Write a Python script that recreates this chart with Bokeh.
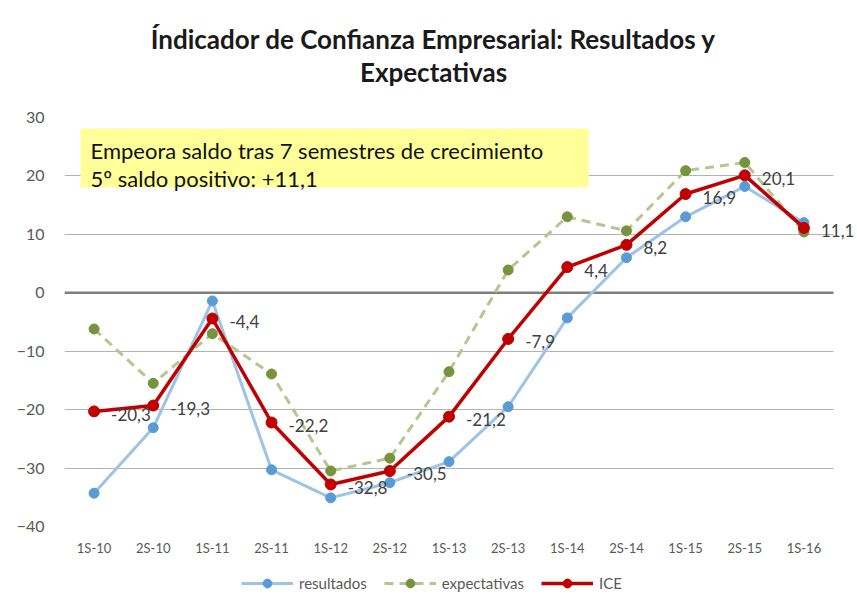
from bokeh.plotting import figure
from bokeh.layouts import column
from bokeh.models import FixedTicker, Span, BoxAnnotation, Label, Legend, LegendItem
from bokeh.core.properties import value
from bokeh.embed import file_html
from bokeh.resources import INLINE

periods = ["1S-10", "2S-10", "1S-11", "2S-11", "1S-12", "2S-12", "1S-13",
           "2S-13", "1S-14", "2S-14", "1S-15", "2S-15", "1S-16"]
resultados = [-34.3, -23.1, -1.4, -30.3, -35.1, -32.5, -28.9, -19.5, -4.3, 6.0, 13.0, 18.2, 12.0]
expectativas = [-6.2, -15.5, -7.0, -13.9, -30.5, -28.3, -13.5, 3.9, 13.0, 10.6, 20.9, 22.3, 10.4]
ice = [-20.3, -19.3, -4.4, -22.2, -32.8, -30.5, -21.2, -7.9, 4.4, 8.2, 16.9, 20.1, 11.1]
y_ticks = [-40, -30, -20, -10, 0, 10, 20, 30]
title_lines = ["Índicador de Confianza Empresarial: Resultados y", "Expectativas"]
note_lines = ["Empeora saldo tras 7 semestres de crecimiento", "5º saldo positivo: +11,1"]

xs = list(range(len(periods)))
ice_labels = [f"{v:.1f}".replace(".", ",") for v in ice]

FONT = "Lato"
W = 857
TOP_H, MAIN_H, LEG_H = 100, 475, 33
FRAME_L, PLOT_R = 64, 833            # left edge of frame, right end of the plotting area
cat_w = (PLOT_R - FRAME_L) / len(periods)
x_end = len(periods) - 0.5 + (W - PLOT_R) / cat_w   # extra room for the last data label

styles = dict(line=[("#9DC3E6", 3, "solid"), ("#B5C78F", 3, "9 6"), ("#C00000", 3.5, "solid")],
              mark=[("#5B9BD5", 10), ("#77933C", 10), ("#C00000", 11)])
series = [("resultados", resultados), ("expectativas", expectativas), ("ICE", ice)]


def bare(fig):
    fig.outline_line_color = None
    fig.background_fill_color = "white"
    fig.border_fill_color = "white"
    fig.xgrid.visible = False
    fig.ygrid.visible = False
    return fig


# ---- title strip ----
tf = bare(figure(width=W, height=TOP_H, x_range=(0, 1), y_range=(0, 1), output_backend="svg",
                 toolbar_location=None, x_axis_location=None, y_axis_location=None, min_border=0))
for txt, yc in zip(title_lines, [38, 71]):
    tf.add_layout(Label(x=433 - FRAME_L, y=TOP_H - yc, x_units="screen", y_units="screen", text=txt,
                        text_font=FONT, text_font_size="26px", text_font_style="bold",
                        text_color="#1a1a1a", text_align="center", text_baseline="middle"))

# ---- main chart ----
p = bare(figure(width=W, height=MAIN_H, x_range=(-0.5, x_end), y_range=(-40, 30),
                output_backend="svg", toolbar_location=None,
                min_border_left=FRAME_L, min_border_right=0, min_border_top=117 - TOP_H,
                min_border_bottom=MAIN_H - (526 - TOP_H)))
p.ygrid.visible = True

p.yaxis.ticker = FixedTicker(ticks=y_ticks)
p.yaxis.axis_line_color = None
p.yaxis.major_tick_line_color = None
p.yaxis.minor_tick_line_color = None
p.yaxis.major_label_standoff = 14
p.yaxis.major_label_text_font = FONT
p.yaxis.major_label_text_font_size = "16px"
p.yaxis.major_label_text_color = "#595959"

p.xaxis.ticker = FixedTicker(ticks=xs)
p.xaxis.major_label_overrides = {i: s for i, s in zip(xs, periods)}
p.xaxis.axis_line_color = None
p.xaxis.major_tick_line_color = None
p.xaxis.minor_tick_line_color = None
p.xaxis.major_label_standoff = 7
p.xaxis.major_label_text_font = FONT
p.xaxis.major_label_text_font_size = "13px"
p.xaxis.major_label_text_color = "#595959"

p.ygrid.ticker = FixedTicker(ticks=y_ticks)
p.ygrid.grid_line_color = "#B3B3B3"
p.ygrid.grid_line_width = 1

p.add_layout(Span(location=0, dimension="width", line_color="#7F7F7F", line_width=2.5,
                  level="underlay"))
# blank margin to the right of the plotting area (keeps grid lines ending at the last category)
p.add_layout(BoxAnnotation(left=len(periods) - 0.5, fill_color="white", fill_alpha=1,
                           line_color=None, level="underlay"))

p.add_layout(BoxAnnotation(left=-0.23, right=8.36, top=28.1, bottom=18.0,
                           fill_color="#FFFF99", fill_alpha=1, line_color=None))
for txt, yy in zip(note_lines, [24.3, 19.5]):
    p.add_layout(Label(x=-0.06, y=yy, text=txt, text_font=FONT, text_font_size="22px",
                       text_color="#111111", text_baseline="middle", text_align="left"))

for (name, vals), (lc, lw, ld), (mc, ms) in zip(series, styles["line"], styles["mark"]):
    p.line(xs, vals, line_color=lc, line_width=lw, line_dash=ld)
    p.scatter(xs, vals, size=ms, fill_color=mc, line_color=mc)

p.text(xs, ice, text=ice_labels, x_offset=17, y_offset=3, text_align="left",
       text_baseline="middle", text_font=value(FONT), text_font_size="17px", text_color="#404040")

# ---- legend strip ----
lf = bare(figure(width=W, height=LEG_H, x_range=(-0.5, len(periods) - 0.5), y_range=(1000, 1001),
                 output_backend="svg", toolbar_location=None, x_axis_location=None,
                 y_axis_location=None, min_border=0))
items = []
for (name, vals), (lc, lw, ld), (mc, ms) in zip(series, styles["line"], styles["mark"]):
    rl = lf.line(xs, vals, line_color=lc, line_width=lw, line_dash=ld)
    rm = lf.scatter(xs, vals, size=ms, fill_color=mc, line_color=mc)
    items.append(LegendItem(label=name, renderers=[rl, rm]))
legend = Legend(items=items, orientation="horizontal", location=(241 - FRAME_L, 14),
                glyph_width=52, glyph_height=22, label_standoff=6, spacing=17,
                padding=0, margin=0, border_line_color=None, background_fill_alpha=0,
                label_text_font=FONT, label_text_font_size="15px", label_text_color="#595959")
lf.add_layout(legend, "center")

layout = column(tf, p, lf, spacing=0)
open("out.html", "w").write(file_html(layout, INLINE))
